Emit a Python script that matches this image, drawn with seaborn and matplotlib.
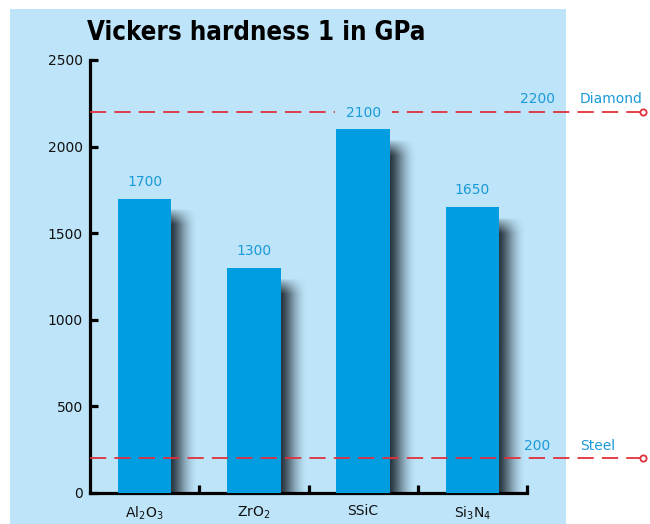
#%% IMPORTS                    ~~~~~~~~~~~~~~~~~~~~~~~~~~~~~~~~~~~~~~~~~~~~
import numpy  as np
import seaborn as sns
import matplotlib
matplotlib.use("Agg")
from   matplotlib import pyplot as plt
from   matplotlib.patches import Rectangle
from   matplotlib.colors import to_rgb

#%% CONSTANTS                   ~~~~~~~~~~~~~~~~~~~~~~~~~~~~~~~~~~~~~~~~~~~~
materials  = [r"Al$_2$O$_3$", r"ZrO$_2$", "SSiC", r"Si$_3$N$_4$"]
hardness   = [1700, 1300, 2100, 1650]
ref_names  = ["Diamond", "Steel"]
ref_values = [2200, 200]
y_ticks    = [0, 500, 1000, 1500, 2000, 2500]

BG         = "#bde4f8"
BAR        = "#009ee0"
LABEL_BLUE = "#1a9ad8"
RED        = "#e0303c"
SHADOW     = "#24313a"

#%% CONFIGURATION               ~~~~~~~~~~~~~~~~~~~~~~~~~~~~~~~~~~~~~~~~~~~~
sns.set_style("ticks")
plt.rcParams['font.family'] = ['DejaVu Sans']
plt.rcParams['mathtext.default'] = 'regular'

#%% MAIN CODE                  ~~~~~~~~~~~~~~~~~~~~~~~~~~~~~~~~~~~~~~~~~~~~
fig = plt.figure(figsize=(6.5, 5.24), dpi=100)
fig.patch.set_facecolor("white")

# light blue panel behind the chart
fig.patches.append(Rectangle((10/650, 0), 556/650, 515/524, transform=fig.transFigure,
                             facecolor=BG, edgecolor="none", zorder=-5))

ax = fig.add_axes([90/650, 31/524, 437/650, 433/524])
ax.set_facecolor("none")

bar_w = 0.49
sns.barplot(x=materials, y=hardness, color=BAR, saturation=1, width=bar_w,
            linewidth=0, edgecolor="none", ax=ax, zorder=3)

# soft drop shadow on the right of every bar
shadow_w = 0.25
drop     = 60
fade     = 90
gx = np.linspace(0, 1, 80)
alpha_x = 0.97 * (1 - gx ** 1.4) ** 2.2
rgb = to_rgb(SHADOW)
for i, v in enumerate(hardness):
    top = v - drop
    yy = np.linspace(0, top, 200)
    alpha_y = np.clip((top - yy) / fade, 0, 1) ** 0.8
    img = np.zeros((len(yy), len(gx), 4))
    img[..., :3] = rgb
    img[..., 3] = alpha_y[:, None] * alpha_x[None, :]
    ax.imshow(img, extent=(i + bar_w/2, i + bar_w/2 + shadow_w, 0, top),
              origin="lower", aspect="auto", interpolation="bilinear", zorder=2)
#end

ax.set_xlim(-0.5, len(materials) - 0.5)
ax.set_ylim(0, 2500)
ax.set_yticks(y_ticks)
ax.set_xticks(range(len(materials)))
ax.set_xticklabels(materials)
ax.set_xticks([i + 0.5 for i in range(len(materials))], minor=True)

sns.despine(ax=ax)
for side in ["left", "bottom"]:
    ax.spines[side].set_linewidth(2.3)
    ax.spines[side].set_color("black")
#end
ax.tick_params(axis="y", direction="in", length=6, width=2.3, labelsize=10,
               pad=5, colors="black", labelcolor="#111111")
ax.tick_params(axis="x", which="major", length=0, labelsize=10, pad=8,
               labelcolor="#111111")
ax.tick_params(axis="x", which="minor", direction="in", length=6, width=2.3,
               color="black")
ax.set_xlabel("")
ax.set_ylabel("")

# reference lines (diamond / steel)
ytrans = ax.get_yaxis_transform()
line_end = 1.265
for name, v in zip(ref_names, ref_values):
    ax.plot([0, line_end], [v, v], transform=ytrans, clip_on=False, color=RED,
            lw=1.3, dashes=(9, 4.5), zorder=4)
    ax.plot([line_end], [v], transform=ytrans, clip_on=False, marker="o", ms=4.5,
            mfc="white", mec=RED, mew=1.3, zorder=5)
    ax.annotate(str(v), (1.023, v), xycoords=ytrans, xytext=(0, 4),
                textcoords="offset points", ha="center", va="bottom",
                color=LABEL_BLUE, fontsize=10, annotation_clip=False)
    ax.annotate(name, (1.121, v), xycoords=ytrans, xytext=(0, 4),
                textcoords="offset points", ha="left", va="bottom",
                color=LABEL_BLUE, fontsize=10, annotation_clip=False)
#end

# value labels, cutting the reference line where they sit on it
for i, v in enumerate(hardness):
    ax.annotate(str(v), (i, v), xytext=(0, 7), textcoords="offset points",
                ha="center", va="bottom", color=LABEL_BLUE, fontsize=10, zorder=6)
    for r in ref_values:
        if abs(v + 80 - r) < 60:
            ax.plot([i - 0.26, i + 0.26], [r, r], color=BG, lw=4, zorder=5,
                    solid_capstyle="butt")
        #end
    #end
#end

fig.text(87/650, 1 - 33/524, "Vickers hardness 1 in GPa", fontsize=18.5,
         fontweight="bold", fontstretch="condensed",
         family=["Liberation Sans Narrow", "DejaVu Sans"],
         ha="left", va="center", color="black")

fig.savefig("out.png", dpi=100, facecolor="white")
